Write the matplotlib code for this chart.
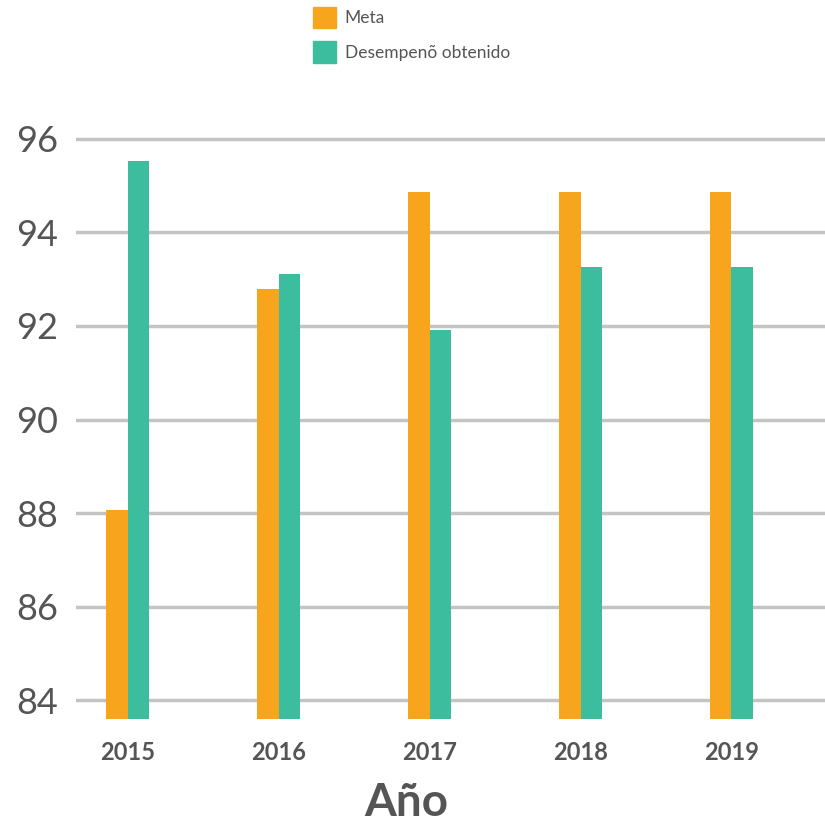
import numpy as np
import matplotlib
matplotlib.use("Agg")
import matplotlib.pyplot as plt
from matplotlib.patches import Patch

years = ["2015", "2016", "2017", "2018", "2019"]
meta = [88.07, 92.78, 94.87, 94.87, 94.87]
desempeno = [95.53, 93.1, 91.92, 93.26, 93.26]
series_names = ["Meta", "Desempenõ obtenido"]

ORANGE = "#F8A51E"
TEAL = "#3BBD9E"
GREY = "#555555"

plt.rcParams["font.family"] = ["Lato", "DejaVu Sans"]

fig = plt.figure(figsize=(8.25, 8.25), dpi=100)
ax = fig.add_axes([76 / 825, 1 - 719 / 825, 1 - 76 / 825, (719 - 113) / 825])

x = np.arange(len(years))
w = 0.143
ax.bar(x - w / 2, meta, width=w, color=ORANGE, zorder=3)
ax.bar(x + w / 2, desempeno, width=w, color=TEAL, zorder=3)

ax.set_ylim(83.6, 96.55)
ax.set_xlim(-0.344, 4.62)
ax.set_yticks([84, 86, 88, 90, 92, 94, 96])
ax.set_xticks(x)
ax.set_xticklabels(years, fontsize=17, fontweight="bold", color=GREY)
for lab in ax.get_yticklabels():
    lab.set_fontsize(26)
    lab.set_fontweight("normal")
    lab.set_color(GREY)
ax.tick_params(axis="y", length=0, pad=13)
ax.tick_params(axis="x", length=0, pad=16)
ax.grid(axis="y", color="#C4C4C4", linewidth=2.5, zorder=0)
for s in ax.spines.values():
    s.set_visible(False)

fig.text(406 / 825, 1 - 803 / 825, "Año", ha="center", va="center",
         fontsize=33, fontweight="bold", color=GREY)

handles = [Patch(color=ORANGE), Patch(color=TEAL)]
fig.legend(handles, series_names, loc="upper left",
           bbox_to_anchor=(297 / 825, 1 + 9 / 825), frameon=False,
           fontsize=12.5, handlelength=1.35, handleheight=1.55,
           handletextpad=0.5, labelspacing=0.75, labelcolor=GREY)

fig.savefig("out.png", dpi=100)
